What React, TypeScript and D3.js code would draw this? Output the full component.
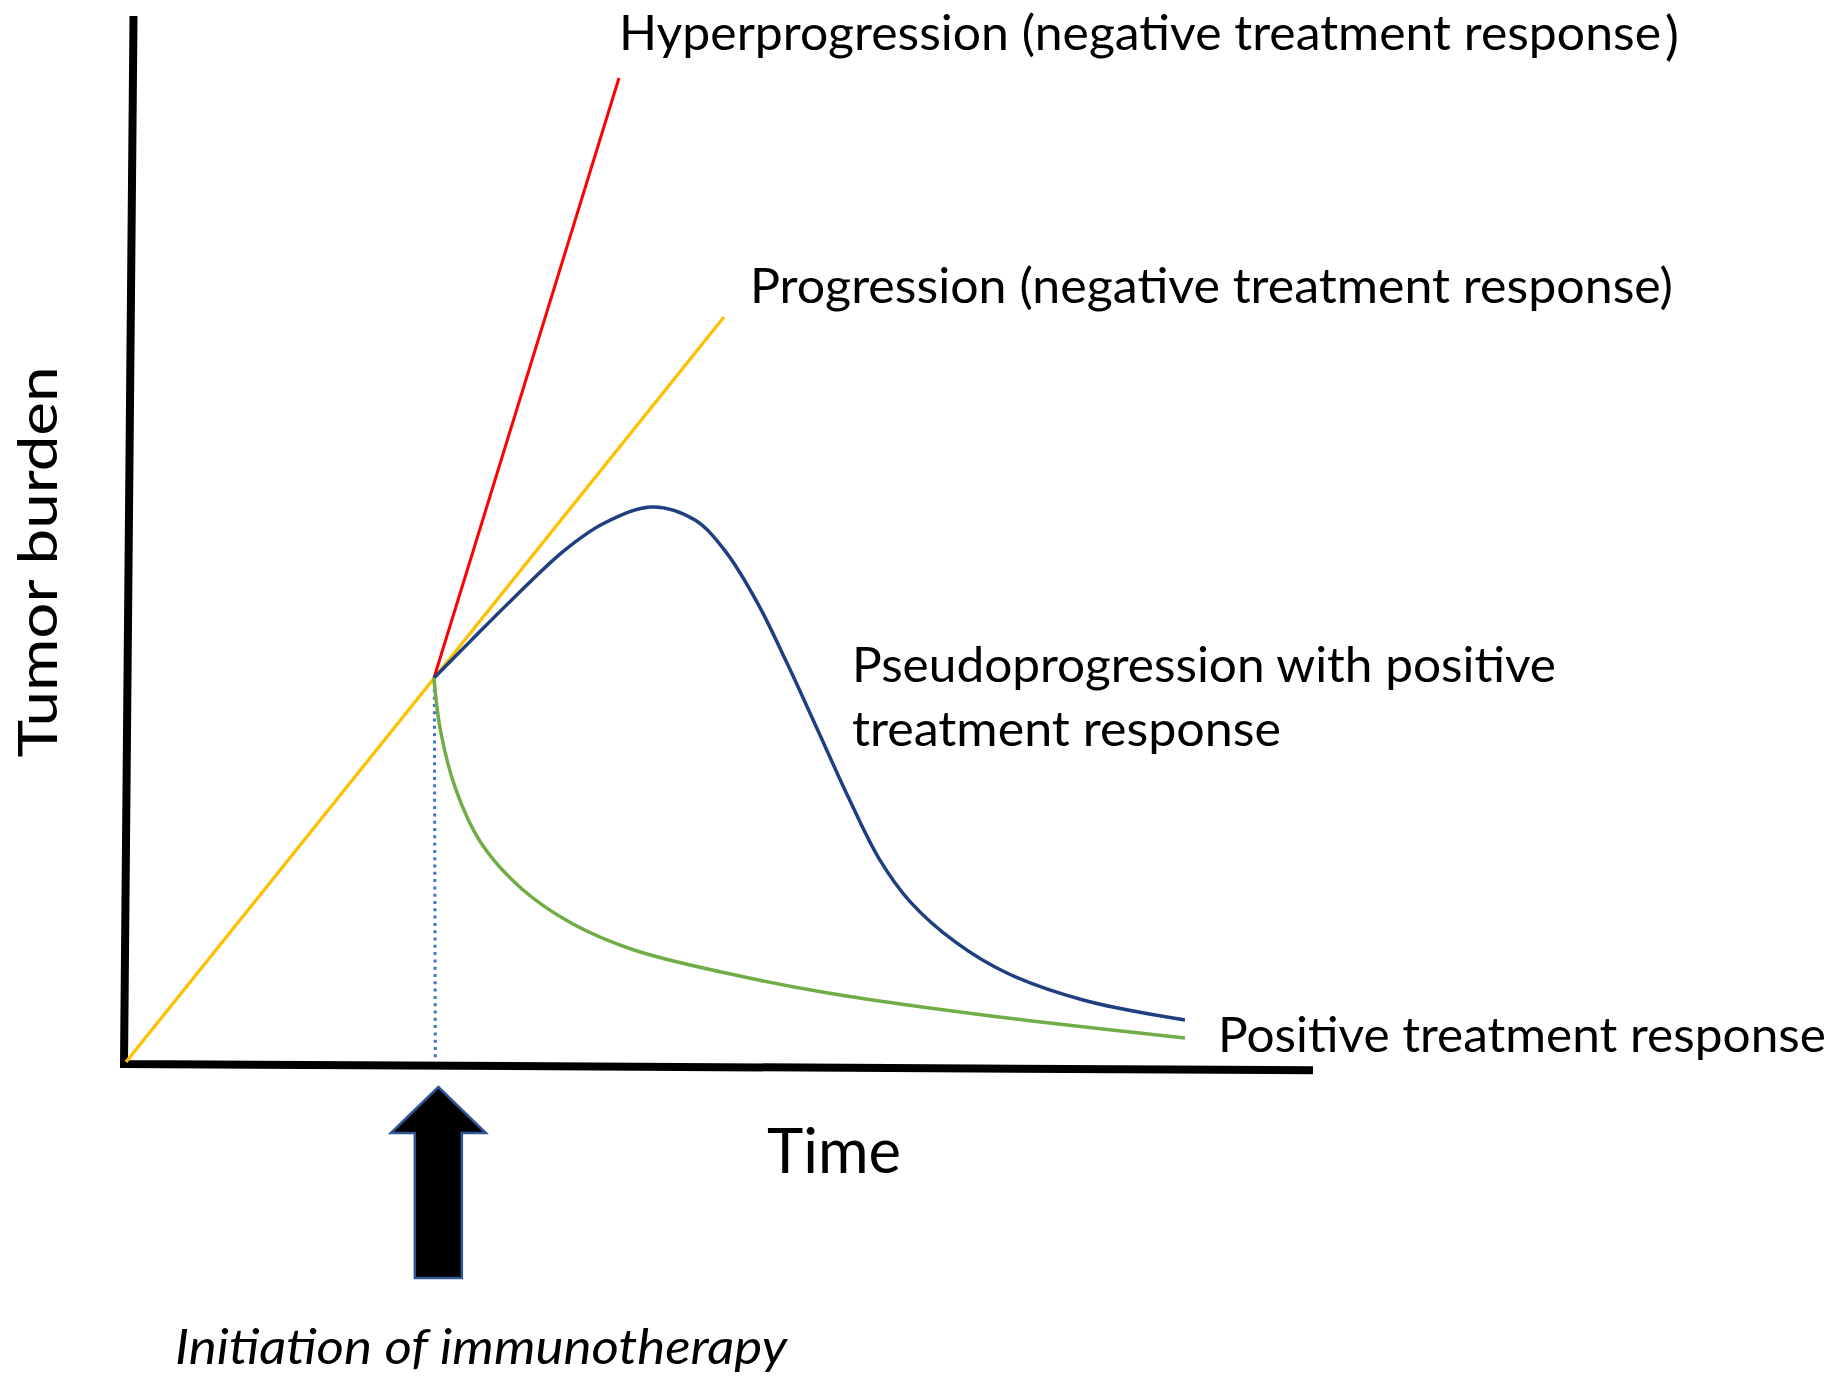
import * as d3 from "d3";
import { useRef, useEffect } from "react";

// time / tumor burden in arbitrary units (0-100 on both axes)
const initiationTime = 26.1;

const yAxisLine = [
  { t: 0.8, v: 100 },
  { t: 0, v: 0 },
  { t: 100, v: -0.6 },
];

const hyperprogression = [
  { t: 26.07, v: 36.83 },
  { t: 41.63, v: 94.08 },
];

const progression = [
  { t: 0.17, v: 0.19 },
  { t: 50.46, v: 71.28 },
];

const pseudoprogression = [
  { t: 26.07, v: 36.83 },
  { t: 29.18, v: 40.4 },
  { t: 32.63, v: 44.3 },
  { t: 36.92, v: 48.9 },
  { t: 40.37, v: 51.6 },
  { t: 44.41, v: 53.15 },
  { t: 48.02, v: 51.9 },
  { t: 50.63, v: 48.85 },
  { t: 53.24, v: 44.08 },
  { t: 55.76, v: 38.26 },
  { t: 58.37, v: 31.8 },
  { t: 60.98, v: 25.3 },
  { t: 63.5, v: 19.6 },
  { t: 66.11, v: 15.5 },
  { t: 69.97, v: 11.6 },
  { t: 74.26, v: 8.68 },
  { t: 80.66, v: 6.11 },
  { t: 89.23, v: 4.2 },
];

const positiveResponse = [
  { t: 26.07, v: 36.83 },
  { t: 26.58, v: 32.06 },
  { t: 27.92, v: 26.15 },
  { t: 30.03, v: 21.09 },
  { t: 33.47, v: 16.7 },
  { t: 37.76, v: 13.36 },
  { t: 42.89, v: 10.88 },
  { t: 50.63, v: 8.68 },
  { t: 59.21, v: 6.77 },
  { t: 67.79, v: 5.34 },
  { t: 76.37, v: 4.1 },
  { t: 89.23, v: 2.48 },
];

const hyperLabel = "Hyperprogression (negative treatment response";
const progressionLabel = "Progression (negative treatment response)";
const pseudoLabel = ["Pseudoprogression with positive", "treatment response"];
const positiveLabel = "Positive treatment response";
const xLabel = "Time";
const yLabel = "Tumor burden";
const arrowLabel = "Initiation of immunotherapy";

export default function App() {
  const width = 1828;
  const height = 1376;
  const svgRef = useRef<SVGSVGElement>(null);

  useEffect(() => {
    const svg = d3.select(svgRef.current);
    svg.selectAll("*").remove();

    const x = d3.scaleLinear().domain([0, 100]).range([124, 1313]);
    const y = d3.scaleLinear().domain([0, 100]).range([1064, 16]);

    const line = d3
      .line<{ t: number; v: number }>()
      .x((d) => x(d.t))
      .y((d) => y(d.v));
    const smooth = d3
      .line<{ t: number; v: number }>()
      .x((d) => x(d.t))
      .y((d) => y(d.v))
      .curve(d3.curveCatmullRom.alpha(0.5));

    const font = "Lato, 'Open Sans', sans-serif";

    // axes
    svg
      .append("path")
      .attr("d", line(yAxisLine))
      .attr("fill", "none")
      .attr("stroke", "black")
      .attr("stroke-width", 8)
      .attr("stroke-linejoin", "miter");

    // dotted marker at start of immunotherapy
    svg
      .append("line")
      .attr("x1", x(initiationTime))
      .attr("x2", x(initiationTime) + 1)
      .attr("y1", y(positiveResponse[0].v) + 4)
      .attr("y2", y(0) - 4)
      .attr("stroke", "#4472C4")
      .attr("stroke-width", 3)
      .attr("stroke-dasharray", "3 4.3");

    svg
      .append("path")
      .attr("d", line(progression))
      .attr("fill", "none")
      .attr("stroke", "#FFC000")
      .attr("stroke-width", 3.3);

    svg
      .append("path")
      .attr("d", line(hyperprogression))
      .attr("fill", "none")
      .attr("stroke", "#FF0000")
      .attr("stroke-width", 3);

    svg
      .append("path")
      .attr("d", smooth(pseudoprogression))
      .attr("fill", "none")
      .attr("stroke", "#203F80")
      .attr("stroke-width", 3.5);

    svg
      .append("path")
      .attr("d", smooth(positiveResponse))
      .attr("fill", "none")
      .attr("stroke", "#70AD47")
      .attr("stroke-width", 3.5);

    // arrow under the x axis
    const cx = x(initiationTime) + 4;
    const top = y(0) + 23;
    const arrow = d3.path();
    arrow.moveTo(cx, top);
    arrow.lineTo(cx + 47.5, top + 46);
    arrow.lineTo(cx + 23.5, top + 46);
    arrow.lineTo(cx + 23.5, top + 191);
    arrow.lineTo(cx - 23.5, top + 191);
    arrow.lineTo(cx - 23.5, top + 46);
    arrow.lineTo(cx - 47.5, top + 46);
    arrow.closePath();
    svg
      .append("path")
      .attr("d", arrow.toString())
      .attr("fill", "black")
      .attr("stroke", "#2F5597")
      .attr("stroke-width", 2.5);

    const label = (
      txt: string,
      tx: number,
      ty: number,
      size: number,
      len: number,
      italic = false
    ) =>
      svg
        .append("text")
        .attr("x", tx)
        .attr("y", ty)
        .attr("font-family", font)
        .attr("font-size", size)
        .attr("font-style", italic ? "italic" : "normal")
        .attr("textLength", len)
        .attr("lengthAdjust", "spacingAndGlyphs")
        .attr("fill", "black")
        .text(txt);

    label(hyperLabel, 619, 50, 49, 1042);
    svg
      .append("text")
      .attr("x", 1665)
      .attr("y", 54)
      .attr("font-family", font)
      .attr("font-size", 52)
      .text(")");
    label(progressionLabel, 750, 303, 49, 923);
    label(pseudoLabel[0], 852, 682, 49, 704);
    label(pseudoLabel[1], 852, 746, 49, 429);
    label(positiveLabel, 1218, 1052, 49, 608);
    label(xLabel, 767, 1173, 61, 134);
    label(arrowLabel, 175, 1364, 48, 612, true);

    svg
      .append("text")
      .attr("transform", `translate(57,562) rotate(-90)`)
      .attr("text-anchor", "middle")
      .attr("font-family", font)
      .attr("font-size", 55)
      .attr("textLength", 391)
      .attr("lengthAdjust", "spacingAndGlyphs")
      .text(yLabel);
  }, []);

  return (
    <svg
      ref={svgRef}
      width={width}
      height={height}
      style={{ position: "absolute", left: 0, top: 0, background: "white" }}
    />
  );
}
